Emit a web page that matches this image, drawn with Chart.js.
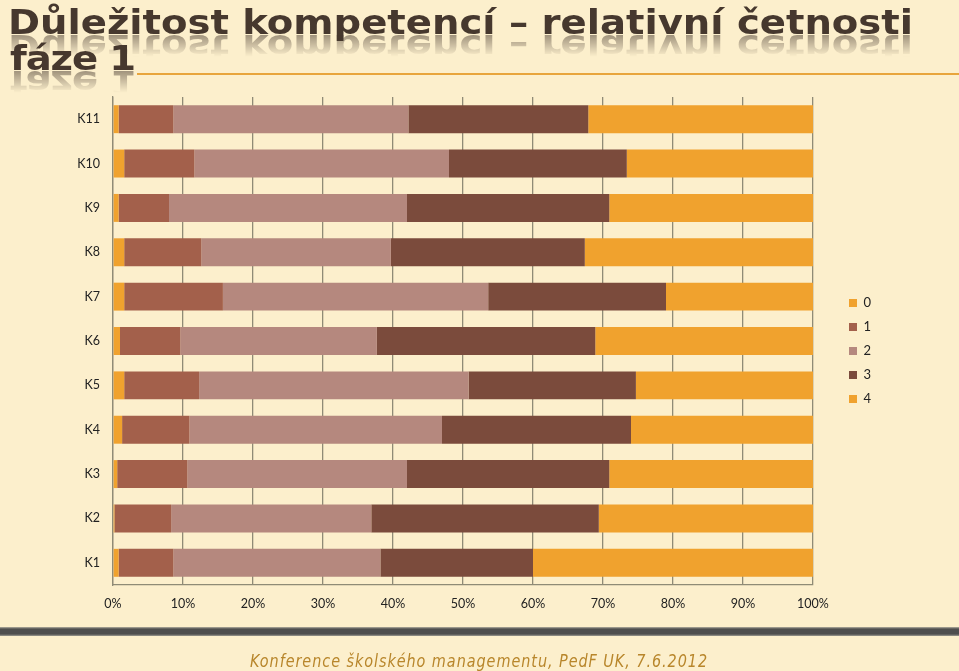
<!DOCTYPE html>
<html>
<head>
<meta charset="utf-8">
<script src="https://cdn.jsdelivr.net/npm/chart.js@4"></script>
<style>
  body { margin: 0; background: #fcefcc; width: 959px; height: 671px; overflow: hidden; position: relative; }
  #chart { position: absolute; left: 0; top: 0; }
  .tl { position: absolute; white-space: nowrap; font-family: "DejaVu Sans Condensed", "DejaVu Sans", sans-serif;
        font-weight: bold; font-size: 34px; line-height: 34px; color: #46382e; transform-origin: left center; }
  .refl { position: absolute; overflow: hidden; height: 24px; width: 959px;
          -webkit-mask-image: linear-gradient(to bottom, rgba(0,0,0,0.5), rgba(0,0,0,0) 90%);
          mask-image: linear-gradient(to bottom, rgba(0,0,0,0.5), rgba(0,0,0,0) 90%); }
  #rule { position: absolute; left: 137px; right: 0; top: 73px; height: 2px; background: #e8a53c; }
  #band { position: absolute; left: 0; right: 0; top: 627px; height: 9px;
          background: linear-gradient(to bottom, #b4b0a0 0, #4e4e4e 2px, #4e4e4e 7px, #9c9a90 9px); }
  #foot { position: absolute; top: 651px; left: 0; white-space: nowrap; font-family: "Liberation Sans Narrow", "DejaVu Sans Condensed", sans-serif;
          font-style: italic; font-size: 17px; line-height: 20px; color: #b8862b; letter-spacing: 1px; transform-origin: left center; }
</style>
</head>
<body>
<div class="tl" id="t1" style="left:8px; top:5px;">Důležitost kompetencí – relativní četnosti</div>
<div class="refl" style="left:0; top:35px;"><div class="tl" id="r1" style="left:8px; top:-5px;">Důležitost kompetencí – relativní četnosti</div></div>
<div class="refl" style="left:0; top:71px;"><div class="tl" id="r2" style="left:10px; top:-5px;">fáze 1</div></div>
<div class="tl" id="t2" style="left:10px; top:41px;">fáze 1</div>
<div id="rule"></div>
<canvas id="chart" width="959" height="671"></canvas>
<div id="band"></div>
<div id="foot">Konference školského managementu, PedF UK, 7.6.2012</div>
<script>
// competencies, bottom to top
var categories = ['K1', 'K2', 'K3', 'K4', 'K5', 'K6', 'K7', 'K8', 'K9', 'K10', 'K11'];
var seriesNames = ['0', '1', '2', '3', '4'];
// relative frequencies in %, per answer level
var level0 = [0.8, 0.2, 0.6, 1.3, 1.6, 1.0, 1.6, 1.6, 0.8, 1.6, 0.8];
var level1 = [7.8, 8.1, 10.0, 9.6, 10.7, 8.6, 14.1, 11.0, 7.2, 10.0, 7.8];
var level2 = [29.6, 28.6, 31.4, 36.1, 38.5, 28.1, 37.9, 27.1, 34.0, 36.4, 33.6];
var level3 = [21.8, 32.5, 28.9, 27.0, 23.9, 31.2, 25.4, 27.7, 28.9, 25.4, 25.7];
var level4 = [40.0, 30.6, 29.1, 26.0, 25.3, 31.1, 21.0, 32.6, 29.1, 26.6, 32.1];
var xTicks = [0, 10, 20, 30, 40, 50, 60, 70, 80, 90, 100];

var colors = ['#f0a22e', '#a3604b', '#b5887e', '#7b4b3c', '#f0a22e'];

function fitTitle() {
  var t1 = document.getElementById('t1');
  var sx = 905 / t1.getBoundingClientRect().width;
  ['t1', 'r1'].forEach(function (id) {
    document.getElementById(id).style.transform = id === 't1' ? 'scaleX(' + sx + ')' : 'scale(' + sx + ',-1)';
  });
  var t2 = document.getElementById('t2');
  var w = t2.getBoundingClientRect().width;
  var ls = (125 / sx - w) / 6;
  ['t2', 'r2'].forEach(function (id) {
    var el = document.getElementById(id);
    el.style.letterSpacing = ls + 'px';
    el.style.transform = id === 't2' ? 'scaleX(' + sx + ')' : 'scale(' + sx + ',-1)';
  });
  var foot = document.getElementById('foot');
  var fw = foot.getBoundingClientRect().width;
  foot.style.transform = 'scaleX(' + (458 / fw) + ')';
  foot.style.left = '250px';
}

// keep legend box wide and move its items to where the original has them
var legendPlace = {
  id: 'legendPlace',
  beforeInit: function (chart) {
    var legend = chart.legend;
    var fit = legend.fit;
    legend.fit = function () { fit.call(this); this.width = 146; };
  },
  afterLayout: function (chart) {
    var l = chart.legend;
    l.left += 25; l.top += 10; l.bottom += 10;
  }
};

function createChart() {
  var ctx = document.getElementById('chart').getContext('2d');
  var levels = [level0, level1, level2, level3, level4];
  var datasets = levels.map(function (vals, i) {
    return {
      label: seriesNames[i],
      data: vals,
      backgroundColor: colors[i],
      borderWidth: 0,
      barPercentage: 0.63,
      categoryPercentage: 1
    };
  });
  new Chart(ctx, {
    type: 'bar',
    data: { labels: categories, datasets: datasets },
    plugins: [legendPlace],
    options: {
      indexAxis: 'y',
      responsive: false,
      animation: false,
      layout: { padding: { top: 97, left: 0, right: 0, bottom: 0 } },
      scales: {
        x: {
          stacked: true,
          min: 0,
          max: 100,
          afterBuildTicks: function (scale) {
            scale.ticks = xTicks.map(function (v) { return { value: v }; });
          },
          afterFit: function (scale) { scale.height = 86; },
          grid: { color: '#8f8b76', lineWidth: 1.3, drawTicks: false },
          border: { color: '#8f8b76', width: 1.3 },
          ticks: {
            padding: 11,
            color: '#222',
            font: { family: 'Lato', size: 12.5 },
            callback: function (v) { return v + '%'; }
          }
        },
        y: {
          stacked: true,
          reverse: true,
          afterFit: function (scale) { scale.width = 113; },
          grid: { display: false, drawTicks: false },
          border: { color: '#8f8b76', width: 1.3 },
          ticks: { padding: 13, color: '#222', font: { family: 'Lato', size: 12.5 } }
        }
      },
      plugins: {
        legend: {
          position: 'right',
          fullSize: false,
          labels: {
            boxWidth: 8,
            boxHeight: 8,
            padding: 11,
            color: '#222',
            font: { family: 'Lato', size: 13 }
          }
        },
        tooltip: { enabled: false }
      }
    }
  });
}

window.addEventListener('load', function () {
  fitTitle();
  createChart();
});
</script>
</body>
</html>
